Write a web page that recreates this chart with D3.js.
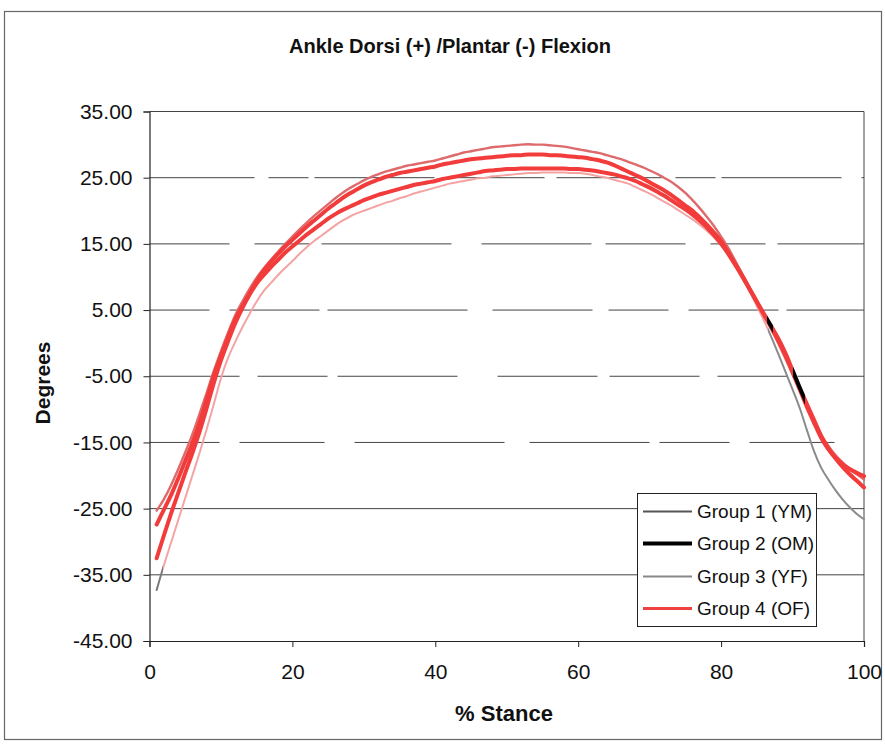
<!DOCTYPE html>
<html><head><meta charset="utf-8">
<script src="https://cdn.jsdelivr.net/npm/d3@7"></script>
<style>
html,body{margin:0;padding:0;background:#fff;}
svg{display:block;font-family:"Liberation Sans",Arial,Helvetica,sans-serif;}
</style></head>
<body>
<svg id="chart" width="885" height="746"></svg>
<script>
// ---- DATA ----
const stance = d3.range(1, 101); // % stance, 1..100
const group1YM = [-25.3,-23.6,-21.5,-19.1,-16.5,-13.8,-10.7,-7.5,-4.2,-1.2,
 1.6,4.2,6.3,8.2,9.9,11.3,12.6,13.8,15.0,16.1,
 17.2,18.2,19.2,20.1,21.0,21.9,22.7,23.4,24.0,24.6,
 25.1,25.5,25.9,26.2,26.5,26.8,27.0,27.2,27.4,27.6,
 27.9,28.2,28.5,28.8,29.0,29.2,29.4,29.6,29.7,29.8,
 29.9,30.0,30.05,30.0,30.0,29.9,29.8,29.7,29.5,29.3,
 29.1,28.9,28.7,28.4,28.1,27.8,27.4,27.0,26.6,26.1,
 25.6,25.0,24.4,23.6,22.7,21.6,20.4,19.1,17.7,16.1,
 14.4,12.4,10.4,8.4,6.4,4.3,2.2,0.0,-2.3,-4.7,
 -7.0,-9.4,-11.7,-13.8,-15.5,-16.9,-18.0,-19.0,-19.8,-20.6];
const group2OM = [-27.4,-25.2,-23.0,-20.5,-17.8,-15.1,-12.0,-8.5,-4.9,-1.9,
 0.9,3.6,5.6,7.5,9.4,11.0,12.3,13.5,14.6,15.6,
 16.6,17.6,18.5,19.4,20.3,21.1,21.9,22.6,23.2,23.8,
 24.3,24.7,25.1,25.4,25.7,25.9,26.1,26.3,26.5,26.7,
 27.0,27.2,27.4,27.6,27.8,27.9,28.0,28.1,28.2,28.3,
 28.4,28.4,28.5,28.5,28.5,28.4,28.4,28.3,28.2,28.1,
 28.0,27.8,27.6,27.3,26.9,26.4,25.9,25.4,24.9,24.3,
 23.7,23.1,22.4,21.6,20.8,20.0,19.0,17.9,16.7,15.4,
 13.7,11.9,10.1,8.2,6.3,4.4,2.6,0.7,-1.5,-4.1,
 -6.7,-9.2,-11.6,-14.0,-15.9,-17.4,-18.7,-19.8,-20.8,-21.8];
const group3YF = [-37.3,-33.6,-30.2,-26.8,-23.4,-20.0,-16.6,-13.0,-9.2,-5.3,
 -2.2,0.2,2.4,4.4,6.3,7.9,9.1,10.3,11.4,12.4,
 13.5,14.5,15.4,16.2,17.0,17.8,18.5,19.1,19.6,20.0,
 20.4,20.8,21.2,21.5,21.9,22.2,22.6,22.9,23.2,23.5,
 23.8,24.1,24.3,24.5,24.7,24.9,25.0,25.2,25.3,25.4,
 25.5,25.6,25.7,25.7,25.8,25.8,25.8,25.8,25.7,25.7,
 25.6,25.4,25.2,25.0,24.7,24.4,24.1,23.6,23.1,22.6,
 22.0,21.4,20.8,20.1,19.4,18.7,17.9,17.0,16.0,14.8,
 13.3,11.6,9.8,7.8,5.6,3.4,1.0,-1.6,-4.3,-7.0,
 -9.8,-13.1,-16.3,-18.8,-20.6,-22.2,-23.6,-24.8,-25.8,-26.6];
const group4OF = [-32.5,-29.1,-25.8,-22.7,-19.6,-16.6,-13.4,-9.8,-6.0,-2.6,
 0.3,3.0,5.3,7.3,9.0,10.3,11.5,12.6,13.7,14.6,
 15.5,16.4,17.2,18.0,18.8,19.5,20.1,20.6,21.1,21.6,
 22.0,22.4,22.7,23.0,23.3,23.6,23.9,24.1,24.3,24.5,
 24.8,25.0,25.2,25.4,25.6,25.8,26.0,26.1,26.2,26.3,
 26.3,26.4,26.4,26.4,26.4,26.4,26.4,26.4,26.3,26.3,
 26.2,26.1,25.9,25.7,25.5,25.2,24.9,24.5,24.0,23.5,
 22.9,22.3,21.6,20.9,20.2,19.4,18.5,17.5,16.3,15.0,
 13.5,11.8,10.0,8.1,6.2,4.3,2.4,0.4,-1.8,-4.4,
 -7.0,-9.6,-12.0,-14.3,-16.0,-17.3,-18.3,-19.0,-19.6,-20.1];
const seriesNames = ["Group 1 (YM)","Group 2 (OM)","Group 3 (YF)","Group 4 (OF)"];
const yTicks = [35,25,15,5,-5,-15,-25,-35,-45];
const xTicks = [0,20,40,60,80,100];
const titleText = "Ankle Dorsi (+) /Plantar (-) Flexion";
const xTitle = "% Stance";
const yTitle = "Degrees";

// ---- CHART ----
const svg = d3.select("#chart");
const L = 149.5, R = 864, T = 111.5, B = 641;
const x = d3.scaleLinear().domain([0,100]).range([L,R]);
const y = d3.scaleLinear().domain([-45,35]).range([B,T]);

svg.append("rect").attr("x",0).attr("y",0).attr("width",885).attr("height",746).attr("fill","#fff");
// outer frame
svg.append("rect").attr("x",4.5).attr("y",11.5).attr("width",877).attr("height",728)
  .attr("fill","none").attr("stroke","#666").attr("stroke-width",1.2);

// gridlines
const brokenDash = {25:"105,14,40,6,120,20,90,12", 15:"80,25,55,12,130,30,110,14", 5:"60,20,90,8,140,25,100,16",
                    "-5":"90,18,70,10,120,40,100,12", "-15":"70,20,85,30,150,25,120,10"};
svg.append("g").selectAll("line").data(yTicks.filter(v => v>-45 && v<35)).join("line")
  .attr("x1",L).attr("x2",R).attr("y1",d=>y(d)).attr("y2",d=>y(d))
  .attr("stroke","#444").attr("stroke-width",1)
  .attr("stroke-dasharray",d=> brokenDash[d] || null);

// plot border top/right
svg.append("line").attr("x1",L).attr("x2",R).attr("y1",T).attr("y2",T).attr("stroke","#444");
svg.append("line").attr("x1",R).attr("x2",R).attr("y1",T).attr("y2",B).attr("stroke","#444");

// axes
const yAxis = d3.axisLeft(y).tickValues(yTicks).tickFormat(d => d.toFixed(2)).tickSize(6).tickPadding(11);
const gy = svg.append("g").attr("transform",`translate(${L},0)`).call(yAxis);
gy.select(".domain").attr("stroke","#222").attr("stroke-width",1.2);
gy.selectAll(".tick line").attr("stroke","#222");
gy.selectAll(".tick text").attr("font-size",21).attr("fill","#111").attr("font-family","Liberation Sans, Arial, sans-serif");

const xAxis = d3.axisBottom(x).tickValues(xTicks).tickFormat(d => String(d)).tickSize(6).tickPadding(17);
const gx = svg.append("g").attr("transform",`translate(0,${B})`).call(xAxis);
gx.select(".domain").attr("stroke","#222").attr("stroke-width",1.2);
gx.selectAll(".tick line").attr("stroke","#222");
gx.selectAll(".tick text").attr("font-size",21).attr("fill","#111").attr("font-family","Liberation Sans, Arial, sans-serif");

// gradients for scanned colour look
const defs = svg.append("defs");
function grad(id, stops){
  const g = defs.append("linearGradient").attr("id",id).attr("gradientUnits","userSpaceOnUse")
    .attr("x1",x(0)).attr("x2",x(100)).attr("y1",0).attr("y2",0);
  stops.forEach(s => g.append("stop").attr("offset",(x(s[0])-x(0))/(x(100)-x(0))).attr("stop-color",s[1]));
}
const RED = "#f23b3b";
grad("g2",[[0,RED],[86.4,RED],[86.4,"#000"],[87.3,"#000"],[87.3,RED],[90.0,RED],[90.0,"#000"],[91.8,"#000"],[91.8,RED],[100,RED]]);
grad("g3",[[0,"#7a7a7a"],[1.9,"#7a7a7a"],[1.9,"#f4a3a3"],[86.5,"#f4a3a3"],[86.5,"#8a8a8a"],[100,"#8a8a8a"]]);

const line = d3.line().x((d,i)=>x(stance[i])).y(d=>y(d)).curve(d3.curveMonotoneX);
const plotSeries = [
  {vals:group3YF, stroke:"url(#g3)", w:2},
  {vals:group1YM, stroke:"#de6a6c", w:2.4},
  {vals:group4OF, stroke:RED, w:4},
  {vals:group2OM, stroke:"url(#g2)", w:4}
];
svg.append("g").selectAll("path").data(plotSeries).join("path")
  .attr("d",d=>line(d.vals)).attr("fill","none")
  .attr("stroke",d=>d.stroke).attr("stroke-width",d=>d.w)
  .attr("stroke-linejoin","round").attr("stroke-linecap","round");

// legend
const lg = svg.append("g");
lg.append("rect").attr("x",637.5).attr("y",493.5).attr("width",179).attr("height",133)
  .attr("fill","#fff").attr("stroke","#222").attr("stroke-width",1);
const legStyle = [{c:"#555",w:2},{c:"#000",w:4},{c:"#888",w:2},{c:"#f04040",w:3}];
const rowY = [511.5,543.5,576.5,608.5];
seriesNames.forEach((n,i)=>{
  lg.append("line").attr("x1",643).attr("x2",692).attr("y1",rowY[i]).attr("y2",rowY[i])
    .attr("stroke",legStyle[i].c).attr("stroke-width",legStyle[i].w);
  lg.append("text").attr("x",697).attr("y",rowY[i]).attr("dy","0.36em")
    .attr("font-size",19).attr("fill","#111").text(n);
});

// titles
svg.append("text").attr("x",450).attr("y",53).attr("text-anchor","middle")
  .attr("font-size",20).attr("font-weight","bold").attr("fill","#111")
  .attr("textLength",322).attr("lengthAdjust","spacingAndGlyphs").text(titleText);
svg.append("text").attr("x",504).attr("y",721).attr("text-anchor","middle")
  .attr("font-size",22).attr("font-weight","bold").attr("fill","#111").text(xTitle);
svg.append("text").attr("transform","translate(50,383) rotate(-90)").attr("text-anchor","middle")
  .attr("font-size",21).attr("font-weight","bold").attr("fill","#111").text(yTitle);
</script>
</body></html>
